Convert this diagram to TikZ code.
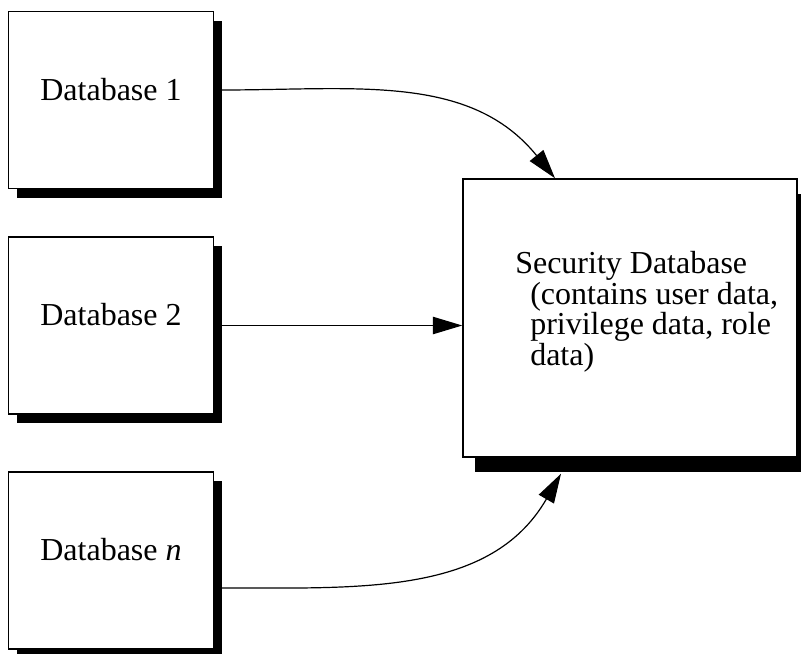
\documentclass[tikz,border=0pt]{standalone}
\usepackage{fontspec}
\setmainfont{Liberation Serif}
\usetikzlibrary{shadows,arrows.meta}

\begin{document}
\begin{tikzpicture}[x=0.75pt, y=-0.75pt,
    every node/.style={font=\fontsize{24}{21.75}\selectfont}]
  \tikzset{>={Triangle[length=22pt,width=13pt]}}
  \tikzset{
    dbbox/.style={draw, line width=1.1pt, fill=white,
      minimum width=153.75pt, minimum height=132.75pt,
      text height=0.7em, text depth=0.7em,
      drop shadow={shadow xshift=6pt, shadow yshift=-6.75pt,
        fill=black, opacity=1}},
    secbox/.style={draw, line width=1.1pt, fill=white,
      minimum width=250.5pt, minimum height=208.5pt,
      drop shadow={shadow xshift=9pt, shadow yshift=-11.25pt,
        fill=black, opacity=1}},
    flow/.style={->, line width=0.9pt}
  }
  \useasboundingbox (0,0) rectangle (801,654);
  %
  \foreach \i/\lbl/\y in {1/{Database 1}/100, 2/{Database 2}/325.5,
      n/{Database \textit{n}}/560.5} {
    \node [dbbox] (db\i) at (111,\y) {\lbl};
  }
  %
  \node [secbox] (sec) at (630,318) {};
  % base of a multi-line node is its last line
  \node [anchor=base west, inner sep=0, align=left] (sectxt) at (515,365)
    {Security Database\\
     \hspace*{11.25pt}(contains user data,\\
     \hspace*{11.25pt}privilege data, role\\
     \hspace*{11.25pt}data)};
  %
  \coordinate (s1) at ([xshift=5pt, yshift=7.5pt]db1.east);
  \coordinate (s2) at ([xshift=5pt]db2.east);
  \coordinate (sn) at ([xshift=5pt, yshift=-20.6pt]dbn.east);
  \coordinate (e1) at ([xshift=-56.25pt]sec.north);
  \coordinate (en) at ([xshift=-51.75pt, yshift=-12pt]sec.south);
  %
  \draw [flow] (s1) to [out=0, in=129] (e1);
  \draw [flow] (s2) -- (s2 -| sec.west);
  \draw [flow] (sn) to [out=0, in=-120] (en);
\end{tikzpicture}
\end{document}
